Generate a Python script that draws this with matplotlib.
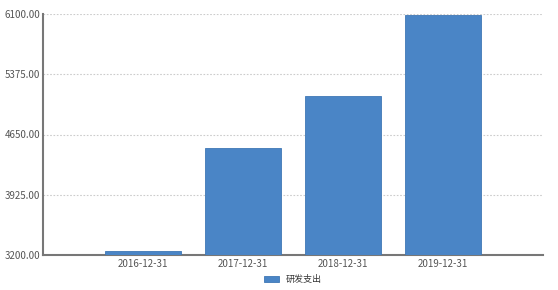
import matplotlib
matplotlib.use("Agg")
import matplotlib.pyplot as plt
from matplotlib.ticker import FixedLocator, FormatStrFormatter

plt.rcParams["font.family"] = ["Noto Sans CJK SC", "DejaVu Sans"]

# data
dates = ["2016-12-31", "2017-12-31", "2018-12-31", "2019-12-31"]
rd_spend = [3248, 4487, 5113, 6088]
y_ticks = [3200, 3925, 4650, 5375, 6100]
series_name = "研发支出"

bar_color = "#4a85c6"
axis_color = "#777777"
text_color = "#555555"

fig = plt.figure(figsize=(5.58, 2.9), dpi=100)
ax = fig.add_axes([43 / 558, 35 / 290, 500 / 558, 241 / 290])

pos = list(range(1, len(dates) + 1))
ax.bar(pos, rd_spend, width=0.76, color=bar_color, edgecolor="#3f78b5",
       linewidth=0.6, label=series_name, zorder=3)

ax.set_xlim(0, 5)
ax.set_ylim(y_ticks[0], y_ticks[-1])
ax.set_xticks(pos)
ax.set_xticklabels(dates)
ax.yaxis.set_major_locator(FixedLocator(y_ticks))
ax.yaxis.set_major_formatter(FormatStrFormatter("%.2f"))

ax.grid(axis="y", color="#cccccc", linestyle=(0, (1.5, 1.5)), linewidth=0.8, zorder=0)
ax.set_axisbelow(True)

for side in ["top", "right"]:
    ax.spines[side].set_visible(False)
ax.spines["left"].set_color(axis_color)
ax.spines["left"].set_linewidth(1.5)
ax.spines["bottom"].set_color(axis_color)
ax.spines["bottom"].set_linewidth(1.5)
ax.tick_params(axis="both", length=0, labelsize=7, colors=text_color, pad=2)
ax.tick_params(axis="x", pad=3)

ax.legend(loc="upper center", bbox_to_anchor=(0.5, -0.05), frameon=False,
          fontsize=6.5, handlelength=1.6, handleheight=0.6,
          labelcolor="#333333")

fig.savefig("out.png", dpi=100)
